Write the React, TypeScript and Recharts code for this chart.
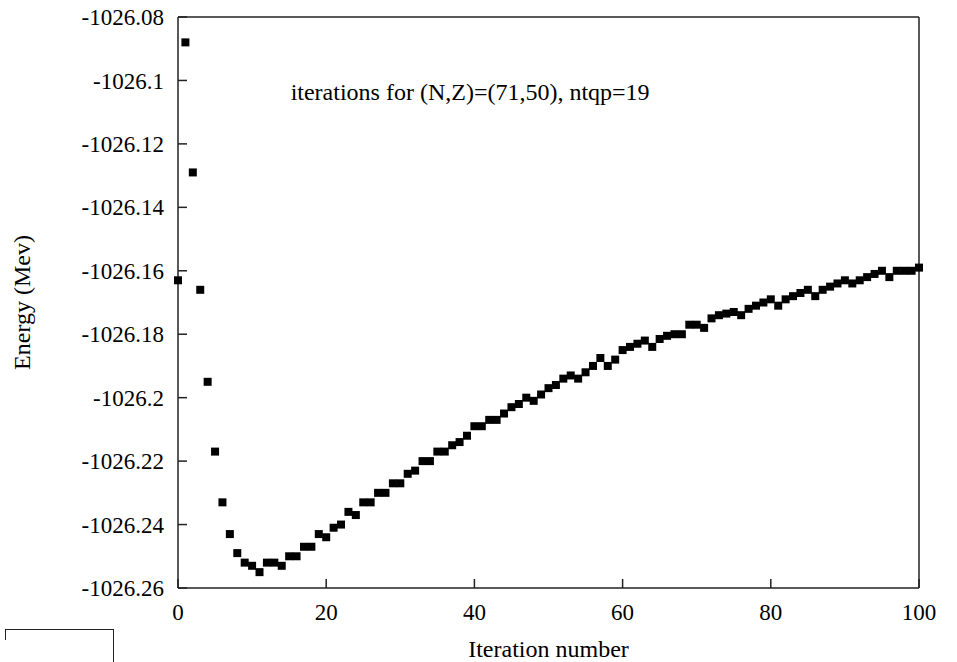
import React from 'react';
import { ScatterChart, Scatter, XAxis, YAxis, ReferenceDot } from 'recharts';

// energy per iteration (iteration 0..100)
const energies = [
  -1026.163, -1026.088, -1026.129, -1026.166, -1026.195, -1026.217, -1026.233, -1026.243, -1026.249, -1026.252,
  -1026.253, -1026.255, -1026.252, -1026.252, -1026.253, -1026.25, -1026.25, -1026.247, -1026.247, -1026.243,
  -1026.244, -1026.241, -1026.24, -1026.236, -1026.237, -1026.233, -1026.233, -1026.23, -1026.23, -1026.227,
  -1026.227, -1026.224, -1026.223, -1026.22, -1026.22, -1026.217, -1026.217, -1026.215, -1026.214, -1026.212,
  -1026.209, -1026.209, -1026.207, -1026.207, -1026.205, -1026.203, -1026.202, -1026.2, -1026.201, -1026.199,
  -1026.197, -1026.196, -1026.194, -1026.193, -1026.194, -1026.192, -1026.19, -1026.1875, -1026.19, -1026.188,
  -1026.185, -1026.184, -1026.183, -1026.182, -1026.184, -1026.1815, -1026.1805, -1026.18, -1026.18, -1026.177,
  -1026.177, -1026.178, -1026.175, -1026.174, -1026.1735, -1026.173, -1026.174, -1026.172, -1026.171, -1026.17,
  -1026.169, -1026.171, -1026.169, -1026.168, -1026.167, -1026.166, -1026.168, -1026.166, -1026.165, -1026.164,
  -1026.163, -1026.164, -1026.163, -1026.162, -1026.161, -1026.16, -1026.162, -1026.16, -1026.16, -1026.16,
  -1026.159,
];

const xTicks = [0, 20, 40, 60, 80, 100];
const yTicks = [-1026.26, -1026.24, -1026.22, -1026.2, -1026.18, -1026.16, -1026.14, -1026.12, -1026.1, -1026.08];

const title = 'iterations for (N,Z)=(71,50), ntqp=19';
const titleAt = { x: 15.2, y: -1026.1035 };

const data = energies.map((e, i) => ({ iter: i, energy: e }));

const font = '"Liberation Serif", "Times New Roman", serif';
const axisColor = '#222';
const tickStyle = { fill: '#000', fontSize: 23, fontFamily: font };

const fmtY = (v: number) => String(parseFloat(v.toFixed(2)));

export default function App() {
  return (
    <div style={{ position: 'absolute', left: 0, top: 0, width: 957, height: 662, background: '#fff', fontFamily: font }}>
      <ScatterChart width={957} height={662} margin={{ top: 16, right: 37, bottom: 26, left: 78 }} style={{ fontFamily: font }}>
        <XAxis
          xAxisId="b"
          type="number"
          dataKey="iter"
          domain={[0, 100]}
          ticks={xTicks}
          height={48}
          stroke={axisColor}
          strokeWidth={1.5}
          tickSize={-9}
          tickMargin={25}
          tick={tickStyle}
          label={{ value: 'Iteration number', position: 'bottom', offset: 4, fill: '#000', fontSize: 24, fontFamily: font }}
        />
        <XAxis
          xAxisId="t"
          orientation="top"
          type="number"
          dataKey="iter"
          domain={[0, 100]}
          ticks={xTicks}
          height={1}
          stroke={axisColor}
          strokeWidth={1.5}
          tickSize={-9}
          tickFormatter={() => ''}
        />
        <YAxis
          yAxisId="l"
          type="number"
          dataKey="energy"
          domain={[-1026.26, -1026.08]}
          ticks={yTicks}
          width={100}
          stroke={axisColor}
          strokeWidth={1.5}
          tickSize={-9}
          tickMargin={23}
          tick={tickStyle}
          tickFormatter={fmtY}
          label={{ value: 'Energy (Mev)', angle: -90, position: 'center', dx: -107, fill: '#000', fontSize: 24, fontFamily: font }}
        />
        <YAxis
          yAxisId="r"
          orientation="right"
          type="number"
          dataKey="energy"
          domain={[-1026.26, -1026.08]}
          ticks={yTicks}
          width={1}
          stroke={axisColor}
          strokeWidth={1.5}
          tickSize={-9}
          tickFormatter={() => ''}
        />
        <ReferenceDot
          xAxisId="b"
          yAxisId="l"
          x={titleAt.x}
          y={titleAt.y}
          r={0}
          ifOverflow="visible"
          label={{ value: title, position: 'right', offset: 0, fill: '#000', fontSize: 24, fontFamily: font }}
        />
        <Scatter
          xAxisId="b"
          yAxisId="l"
          data={data}
          fill="#000"
          shape="square"
          isAnimationActive={false}
        />
      </ScatterChart>
      <div style={{ position: 'absolute', left: 5, top: 629, width: 108, height: 40, borderTop: '1px solid #222', borderRight: '1.5px solid #222' }} />
      <div style={{ position: 'absolute', left: 5, top: 629, width: 1, height: 11, background: '#222' }} />
    </div>
  );
}
